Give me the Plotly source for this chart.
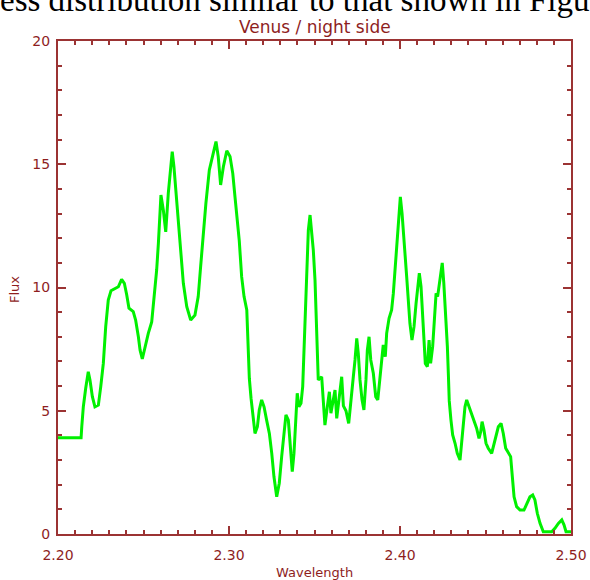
import plotly.graph_objects as go

# ---- data ----
wavelength = [
    2.2000, 2.2135, 2.2139, 2.2148, 2.2162, 2.2177, 2.2187, 2.2201, 2.2216, 2.2236,
    2.2250, 2.2265, 2.2279, 2.2294, 2.2310, 2.2333, 2.2353, 2.2372, 2.2388, 2.2402,
    2.2415, 2.2440, 2.2454, 2.2470, 2.2480, 2.2493, 2.2509, 2.2528, 2.2548, 2.2557,
    2.2567, 2.2577, 2.2587, 2.2593, 2.2602, 2.2616, 2.2630, 2.2645, 2.2659, 2.2668,
    2.2678, 2.2690, 2.2704, 2.2718, 2.2733, 2.2753, 2.2776, 2.2801, 2.2820, 2.2834,
    2.2850, 2.2865, 2.2885, 2.2905, 2.2924, 2.2937, 2.2951, 2.2967, 2.2987, 2.3006,
    2.3022, 2.3035, 2.3049, 2.3060, 2.3074, 2.3088, 2.3104, 2.3110, 2.3115, 2.3119,
    2.3129, 2.3139, 2.3152, 2.3166, 2.3177, 2.3191, 2.3205, 2.3220, 2.3236, 2.3250,
    2.3263, 2.3279, 2.3294, 2.3308, 2.3322, 2.3333, 2.3347, 2.3357, 2.3370, 2.3380,
    2.3390, 2.3399, 2.3409, 2.3421, 2.3431, 2.3440, 2.3448, 2.3458, 2.3464, 2.3474,
    2.3484, 2.3493, 2.3503, 2.3509, 2.3516, 2.3522, 2.3542, 2.3551, 2.3561, 2.3575,
    2.3587, 2.3596, 2.3610, 2.3620, 2.3630, 2.3645, 2.3659, 2.3669, 2.3684, 2.3700,
    2.3713, 2.3727, 2.3737, 2.3747, 2.3756, 2.3766, 2.3778, 2.3789, 2.3801, 2.3809,
    2.3819, 2.3829, 2.3844, 2.3858, 2.3870, 2.3879, 2.3889, 2.3902, 2.3914, 2.3922,
    2.3936, 2.3951, 2.3961, 2.3971, 2.3981, 2.3990, 2.4002, 2.4012, 2.4019, 2.4029,
    2.4039, 2.4049, 2.4058, 2.4070, 2.4082, 2.4094, 2.4104, 2.4113, 2.4123, 2.4133,
    2.4140, 2.4148, 2.4160, 2.4170, 2.4179, 2.4191, 2.4201, 2.4211, 2.4220, 2.4230,
    2.4247, 2.4256, 2.4269, 2.4277, 2.4283, 2.4288, 2.4298, 2.4308, 2.4322, 2.4335,
    2.4351, 2.4361, 2.4370, 2.4380, 2.4390, 2.4405, 2.4419, 2.4433, 2.4448, 2.4462,
    2.4472, 2.4480, 2.4491, 2.4503, 2.4516, 2.4536, 2.4556, 2.4575, 2.4591, 2.4604,
    2.4618, 2.4633, 2.4647, 2.4657, 2.4667, 2.4682, 2.4702, 2.4725, 2.4741, 2.4760,
    2.4776, 2.4789, 2.4803, 2.4819, 2.4838, 2.4858, 2.4887, 2.4906, 2.4926, 2.4946,
    2.4959, 2.4971, 2.5000,
]
flux = [
    3.90, 3.90, 4.35, 5.16, 5.91, 6.58, 6.25, 5.57, 5.16, 5.23,
    5.98, 6.92, 8.41, 9.49, 9.87, 9.97, 10.03, 10.33, 10.17, 9.70,
    9.16, 9.02, 8.68, 8.00, 7.46, 7.10, 7.60, 8.14, 8.60, 9.22,
    9.90, 10.71, 11.79, 12.60, 13.75, 13.14, 12.26, 13.82, 14.77, 15.51,
    14.90, 13.82, 12.60, 11.39, 10.17, 9.22, 8.68, 8.88, 9.63, 10.84,
    12.33, 13.42, 14.77, 15.38, 15.92, 15.31, 14.16, 14.90, 15.55, 15.31,
    14.63, 13.68, 12.74, 11.90, 10.44, 9.63, 9.09, 8.10, 7.30, 6.30,
    5.50, 4.90, 4.08, 4.35, 5.03, 5.44, 5.16, 4.62, 4.08, 3.27,
    2.32, 1.51, 2.06, 3.14, 4.22, 4.83, 4.62, 3.54, 2.53, 3.27,
    4.62, 5.71, 5.16, 5.30, 5.98, 7.87, 9.76, 11.39, 12.33, 12.94,
    12.33, 11.52, 10.30, 8.82, 7.06, 6.25, 6.38, 5.30, 4.42, 5.16,
    5.77, 4.90, 5.57, 5.84, 4.69, 5.71, 6.38, 5.20, 5.00, 4.49,
    5.57, 6.38, 7.06, 7.94, 7.33, 6.25, 5.44, 5.03, 6.25, 7.46,
    8.00, 7.06, 6.52, 5.57, 5.44, 6.11, 6.92, 7.67, 7.19, 8.14,
    8.75, 9.09, 9.76, 10.71, 11.79, 12.74, 13.68, 13.01, 12.47, 11.39,
    10.44, 9.36, 8.55, 7.87, 8.41, 9.36, 10.03, 10.58, 10.03, 8.68,
    7.74, 6.92, 6.79, 7.87, 6.92, 7.60, 8.68, 9.76, 9.63, 10.17,
    11.00, 10.20, 8.82, 7.60, 6.45, 5.40, 4.62, 4.02, 3.68, 3.27,
    3.00, 3.75, 4.62, 5.16, 5.44, 5.16, 4.83, 4.56, 4.29, 3.88,
    4.15, 4.56, 4.22, 3.68, 3.48, 3.27, 3.81, 4.35, 4.49, 4.08,
    3.48, 3.27, 3.14, 2.32, 1.51, 1.11, 0.97, 0.97, 1.25, 1.51,
    1.58, 1.38, 0.84, 0.43, 0.09, 0.09, 0.09, 0.23, 0.43, 0.57,
    0.37, 0.09, 0.09,
]
x_tickvals = [2.20, 2.30, 2.40, 2.50]
x_ticktext = ["2.20", "2.30", "2.40", "2.50"]
y_tickvals = [0, 5, 10, 15, 20]
y_ticktext = ["0", "5", "10", "15", "20"]

title_text = "Venus / night side"
x_label = "Wavelength"
y_label = "Flux"
page_text = "ess distribution similar to that shown in Figu"

# ---- styling ----
AX = "#9b3333"
TXT = "#8e1e1e"
SANS = "DejaVu Sans, Liberation Sans, sans-serif"
W, H = 590, 580
L, R, T, B = 58, 19, 41, 46
PW, PH = W - L - R, H - T - B

def px_x(p):
    return (p - L) / PW

def px_y(p):
    return (H - B - p) / PH

fig = go.Figure()
fig.add_trace(go.Scatter(
    x=wavelength, y=flux, mode="lines",
    line=dict(color="#00f000", width=3),
    hoverinfo="skip", showlegend=False,
))

axis_common = dict(
    automargin=False,
    showgrid=False, zeroline=False, showline=True, linecolor=AX, linewidth=2,
    ticks="inside", ticklen=8, tickwidth=2, tickcolor=AX, mirror="ticks",
    tickfont=dict(family=SANS, size=14, color=TXT),
)
fig.update_xaxes(
    range=[2.20, 2.50], tickmode="array", tickvals=x_tickvals, ticktext=x_ticktext,
    minor=dict(dtick=0.01, tick0=2.2, ticks="inside", ticklen=4, tickwidth=2,
               tickcolor=AX, showgrid=False),
    ticklabelstandoff=7,
    **axis_common,
)
fig.update_yaxes(
    range=[0, 20], tickmode="array", tickvals=y_tickvals, ticktext=y_ticktext,
    minor=dict(dtick=1, tick0=0, ticks="inside", ticklen=4, tickwidth=2,
               tickcolor=AX, showgrid=False),
    ticklabelstandoff=3,
    **axis_common,
)

fig.update_layout(
    width=W, height=H,
    margin=dict(l=L, r=R, t=T, b=B, pad=0, autoexpand=False),
    paper_bgcolor="white", plot_bgcolor="white",
    showlegend=False,
    annotations=[
        dict(text=page_text, xref="paper", yref="paper", x=px_x(-2), y=px_y(20),
             xanchor="left", yanchor="bottom", showarrow=False,
             font=dict(family="Liberation Serif, Times New Roman, serif", size=33, color="black")),
        dict(text=title_text, xref="paper", yref="paper", x=0.5, y=px_y(27),
             xanchor="center", yanchor="middle", showarrow=False,
             font=dict(family=SANS, size=17, color=TXT)),
        dict(text=x_label, xref="paper", yref="paper", x=0.5, y=px_y(572),
             xanchor="center", yanchor="middle", showarrow=False,
             font=dict(family=SANS, size=13, color=TXT)),
        dict(text=y_label, xref="paper", yref="paper", x=px_x(14), y=px_y(290),
             xanchor="center", yanchor="middle", showarrow=False, textangle=-90,
             font=dict(family=SANS, size=13, color=TXT)),
    ],
)

fig.write_html("out.html")
